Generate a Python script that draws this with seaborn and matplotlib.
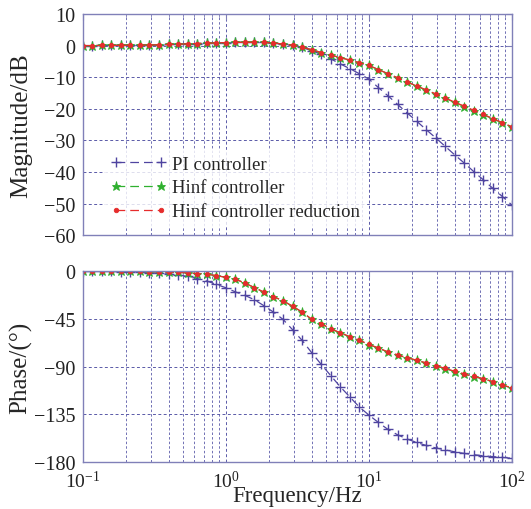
import numpy as np
import pandas as pd
import matplotlib
matplotlib.use("Agg")
import matplotlib.pyplot as plt
import matplotlib.ticker as mticker
import seaborn as sns

# frequency grid (Hz), 15 points per decade from 0.1 to 100 Hz
freq_exp = [k / 15 - 1 for k in range(46)]
freq = [10 ** e for e in freq_exp]

mag_pi = [0.0, 0.0, 0.05, 0.05, 0.1, 0.1, 0.15, 0.2, 0.25, 0.35,
          0.45, 0.55, 0.65, 0.75, 0.85, 0.95, 1.0, 1.05, 1.05, 1.0,
          0.8, 0.5, 0.1, -0.6, -1.6, -2.8, -4.2, -5.8, -7.3, -8.9,
          -10.6, -13.3, -15.9, -18.6, -21.3, -23.9, -26.6, -29.2, -31.9, -34.6,
          -37.2, -39.9, -42.5, -45.2, -47.8, -50.5]
mag_hinf = [0.0, 0.0, 0.05, 0.05, 0.1, 0.1, 0.15, 0.2, 0.25, 0.35,
            0.45, 0.55, 0.65, 0.75, 0.85, 0.95, 1.0, 1.05, 1.05, 1.0,
            0.8, 0.5, 0.1, -0.5, -1.3, -2.2, -3.0, -3.8, -4.6, -5.4,
            -6.3, -7.6, -8.9, -10.2, -11.5, -12.8, -14.1, -15.4, -16.7, -18.0,
            -19.3, -20.6, -21.9, -23.2, -24.5, -25.8]
mag_red = [0.0, 0.0, 0.05, 0.05, 0.1, 0.1, 0.15, 0.2, 0.25, 0.35,
           0.45, 0.55, 0.65, 0.75, 0.85, 0.95, 1.0, 1.05, 1.05, 1.0,
           0.8, 0.5, 0.1, -0.5, -1.3, -2.2, -3.0, -3.8, -4.6, -5.4,
           -6.3, -7.6, -8.9, -10.2, -11.5, -12.8, -14.0, -15.3, -16.6, -17.9,
           -19.2, -20.5, -21.8, -23.1, -24.4, -25.7]

ph_pi = [-0.5, -0.6, -0.7, -0.9, -1.1, -1.3, -1.6, -2.0, -2.6, -3.2,
         -4.0, -5.6, -7.5, -9.8, -13.0, -16.1, -20.0, -23.3, -27.4, -33.0,
         -39.0, -45.8, -55.5, -65.5, -77.0, -88.0, -98.5, -109.0, -118.5, -128.0,
         -135.5, -142.5, -149.0, -154.0, -158.0, -161.2, -164.0, -166.3, -168.2, -170.0,
         -171.5, -172.7, -173.7, -174.5, -175.3, -176.0]
ph_hinf = [-0.3, -0.4, -0.4, -0.5, -0.6, -0.7, -0.8, -1.0, -1.2, -1.5,
           -1.8, -2.2, -2.8, -3.4, -4.8, -6.3, -8.0, -11.8, -16.0, -20.3,
           -24.5, -28.4, -33.5, -39.0, -45.8, -50.0, -54.8, -58.5, -62.2, -65.5,
           -69.5, -72.8, -76.5, -79.3, -81.8, -84.3, -86.8, -89.4, -92.0, -94.7,
           -97.2, -99.5, -101.7, -104.3, -107.3, -110.5]
ph_red = [-0.3, -0.4, -0.4, -0.5, -0.6, -0.7, -0.8, -1.0, -1.2, -1.5,
          -1.8, -2.2, -2.8, -3.4, -4.8, -6.3, -8.0, -11.8, -16.0, -20.3,
          -24.5, -28.4, -33.5, -39.0, -45.6, -49.8, -54.6, -58.3, -62.0, -65.3,
          -69.3, -72.6, -76.3, -79.1, -81.6, -84.1, -86.6, -89.2, -91.8, -94.5,
          -97.0, -99.3, -101.5, -104.1, -107.1, -110.2]

labels = ["PI controller", "Hinf controller", "Hinf controller reduction"]
mag_ticks = [10, 0, -10, -20, -30, -40, -50, -60]
ph_ticks = [0, -45, -90, -135, -180]
x_ticks = [0.1, 1, 10, 100]

sns.set_style("white")
plt.rcParams["font.family"] = ["Liberation Serif", "DejaVu Serif"]
plt.rcParams["mathtext.fontset"] = "stix"

colors = ["#4f44a0", "#2fb02f", "#e62c2c"]
styles = [
    dict(marker="+", markersize=7.5, markeredgewidth=1.0),
    dict(marker="*", markersize=6.5, markeredgewidth=0.6),
    dict(marker=".", markersize=6.5, markeredgewidth=0.6),
]

fig = plt.figure(figsize=(5.31, 5.10), dpi=100)
ax1 = fig.add_axes([0.1557, 0.537, 0.8085, 0.4336])
ax2 = fig.add_axes([0.1557, 0.0912, 0.8085, 0.3764])

frame_col = "#8080b8"
grid_col = "#5a5aa8"

def style_axes(ax):
    ax.set_xscale("log")
    ax.set_xlim(0.1, 100)
    ax.xaxis.set_major_locator(mticker.LogLocator(base=10, numticks=10))
    ax.xaxis.set_minor_locator(mticker.LogLocator(base=10, subs=np.arange(2, 10), numticks=10))
    ax.grid(True, which="major", axis="both", color=grid_col, linestyle=(0, (3, 2.5)), linewidth=0.7)
    ax.grid(True, which="minor", axis="x", color=grid_col, linestyle=(0, (3, 2.5)), linewidth=0.6)
    for s in ax.spines.values():
        s.set_color(frame_col)
        s.set_linewidth(1.0)
    ax.tick_params(which="both", direction="in", top=True, right=True,
                   colors=frame_col, labelcolor="#222222", labelsize=14.5)
    ax.tick_params(axis="y", which="major", pad=5)
    ax.tick_params(which="major", length=4)
    ax.tick_params(which="minor", length=2)

series_mag = [mag_pi, mag_hinf, mag_red]
series_ph = [ph_pi, ph_hinf, ph_red]

for vals, lab, st, c in zip(series_mag, labels, styles, colors):
    df = pd.DataFrame({"f": freq, "v": vals})
    sns.lineplot(data=df, x="f", y="v", ax=ax1, label=lab, linestyle=(0, (7, 4)),
                 linewidth=0.9, color=c, markeredgecolor=c, markerfacecolor=c, **st)
for vals, lab, st, c in zip(series_ph, labels, styles, colors):
    df = pd.DataFrame({"f": freq, "v": vals})
    sns.lineplot(data=df, x="f", y="v", ax=ax2, linestyle=(0, (7, 4)),
                 linewidth=0.9, legend=False, color=c, markeredgecolor=c,
                 markerfacecolor=c, **st)

style_axes(ax1)
style_axes(ax2)

ax1.set_ylim(-60, 10)
ax1.set_yticks(mag_ticks)
ax1.set_xticks(x_ticks)
ax1.tick_params(labelbottom=False)
ax1.set_xlabel("")
ax1.set_ylabel("Magnitude/dB", fontsize=18)
ax1.yaxis.set_label_coords(-0.117, 0.5)

ax2.set_ylim(-180, 0)
ax2.set_yticks(ph_ticks)
ax2.set_xticks(x_ticks)
ax2.xaxis.set_major_formatter(mticker.LogFormatterMathtext())
ax2.tick_params(axis="x", which="major", pad=5, labelsize=14)
ax2.set_xlabel("Frequency/Hz", fontsize=16.5)
ax2.xaxis.set_label_coords(0.5, -0.115)
ax2.xaxis.label.set_verticalalignment("top")
ax2.set_ylabel("Phase/(°)", fontsize=18)
ax2.yaxis.set_label_coords(-0.117, 0.5)

leg = ax1.legend(loc="lower left", bbox_to_anchor=(0.03, 0.0), frameon=True,
                 fontsize=13.5, numpoints=2, handlelength=3.0, handletextpad=0.3,
                 labelspacing=0.35, borderpad=0.3, fancybox=False)
leg.get_frame().set_edgecolor("white")
leg.get_frame().set_facecolor("white")

fig.savefig("out.png", dpi=100)
